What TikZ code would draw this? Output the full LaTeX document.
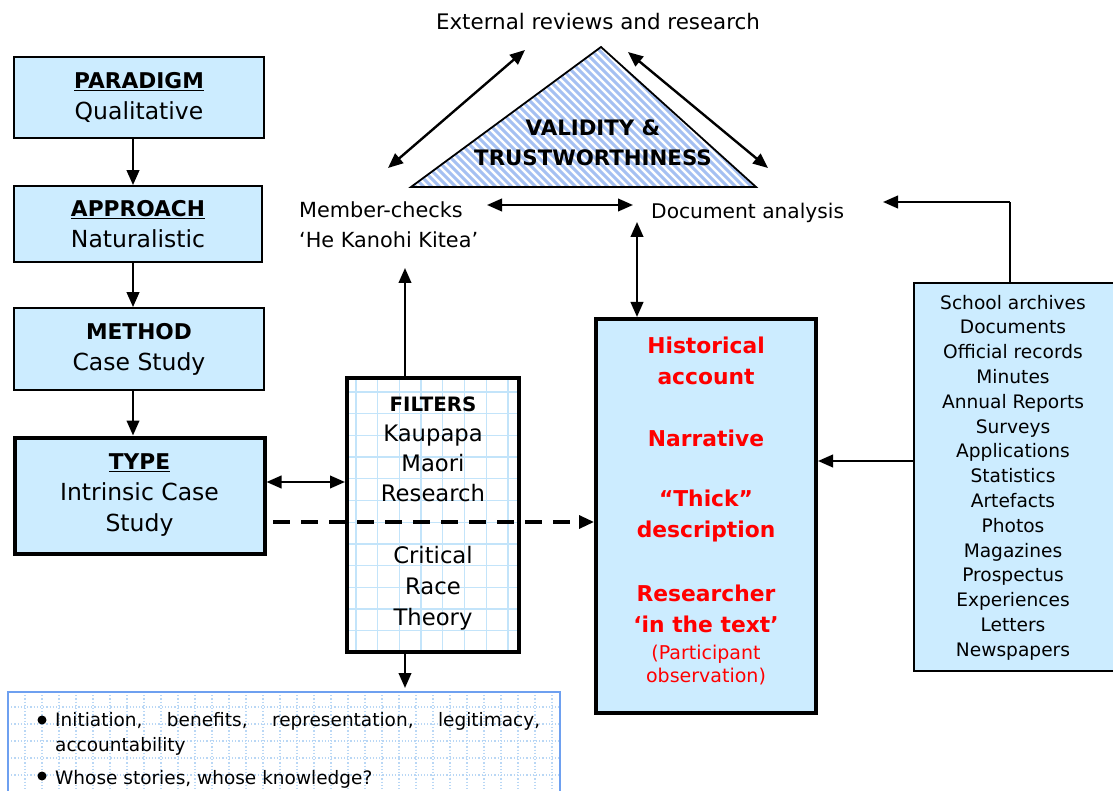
\documentclass[tikz,border=0pt]{standalone}
\usepackage{fontspec}
\setmainfont{DejaVu Sans}
\usetikzlibrary{arrows.meta}
\definecolor{lb}{RGB}{204,236,255}
\definecolor{stripe}{RGB}{165,192,242}
\definecolor{gridc}{RGB}{195,228,250}
\definecolor{dotc}{RGB}{185,215,245}
\definecolor{bordb}{RGB}{110,160,240}
\definecolor{red1}{RGB}{255,0,0}
\tikzset{
  arr/.style={line width=2.4pt,-{Triangle[length=15pt,width=12.5pt]}},
  darr/.style={line width=2.4pt,{Triangle[length=15pt,width=12.5pt]}-{Triangle[length=15pt,width=12.5pt]}},
  bluebox/.style={draw, line width=1.8pt, fill=lb, align=center, inner sep=0pt},
  thickbox/.style={draw, line width=4pt, align=center, inner sep=0pt},
  big/.style={font=\fontsize{23.5}{31}\selectfont},
  redt/.style={text=red1, font=\fontsize{21.8}{30.5}\selectfont\bfseries, align=center},
  bul/.style={circle, fill=black, minimum size=9pt, inner sep=0pt},
}
\newcommand{\hd}[1]{{\fontsize{21.7}{31}\selectfont\textbf{#1}}}
\begin{document}
\begin{tikzpicture}[x=1pt,y=-1pt, every node/.style={inner sep=0pt}]
\useasboundingbox (0,0) rectangle (1113,791);
\fill[white] (0,0) rectangle (1113,791);

% triangle
\coordinate (tA) at (601,47);
\coordinate (tL) at (411,187);
\coordinate (tR) at (756,187);
\fill[white] (tA) -- (tL) -- (tR) -- cycle;
\begin{scope}
\clip (tA) -- (tL) -- (tR) -- cycle;
\foreach \a in {260,268,...,760} \draw[stripe, line width=3pt] (\a,47) -- (\a+140,187);
\end{scope}
\draw[line width=1.8pt] (tA) -- (tL) -- (tR) -- cycle;
\node[font=\fontsize{21.3}{30}\selectfont\bfseries, align=center] (valid) at (593,143) {VALIDITY \&\\TRUSTWORTHINESS};

\node[font=\fontsize{21.4}{30}\selectfont] (ext) at (598,22) {External reviews and research};
\node[font=\fontsize{20.8}{30}\selectfont, anchor=west, align=left] (member) at (299,225) {Member-checks\\‘He Kanohi Kitea’};
\node[font=\fontsize{20.2}{30}\selectfont, anchor=west] (doc) at (651,213) {Document analysis};

\coordinate (e1) at (525,50); \coordinate (m1) at (388,168);
\coordinate (e2) at (628,52); \coordinate (d1) at (768,168);
\draw[darr] (m1) -- (e1);
\draw[darr] (e2) -- (d1);
\coordinate (m2) at (487,205); \coordinate (d2) at (633,205);
\draw[darr] (m2) -- (d2);

% left column
\node[bluebox, big, minimum width=250pt, minimum height=81pt] (par) at (139,97.5) {\underline{\hd{PARADIGM}}\\Qualitative};
\node[bluebox, big, minimum width=248pt, minimum height=76pt] (app) at (138,224) {\underline{\hd{APPROACH}}\\Naturalistic};
\node[bluebox, big, minimum width=250pt, minimum height=82pt] (met) at (139,349) {\hd{METHOD}\\Case Study};
\node[bluebox, thickbox, big, fill=lb, minimum width=250pt, minimum height=116pt] (typ) at (139.5,495.5) {\underline{\hd{TYPE}}\\Intrinsic Case\\Study};
\draw[arr] (par.south -| 133,0) -- (app.north -| 133,0);
\draw[arr] (app.south -| 133,0) -- (met.north -| 133,0);
\draw[arr] (met.south -| 133,0) -- (typ.north -| 133,0);

% filters box
\fill[white] (347,378) rectangle (519,652);
\begin{scope}
\clip (347,378) rectangle (519,652);
\foreach \x in {356,377.7,...,520} \draw[gridc, line width=1.3pt] (\x,378) -- (\x,652);
\foreach \y in {392,413.7,...,652} \draw[gridc, line width=1.3pt] (347,\y) -- (519,\y);
\end{scope}
\node[thickbox, minimum width=172pt, minimum height=274pt] (filt) at (433,515) {};
\node[font=\fontsize{22.7}{30}\selectfont, align=center] (f1) at (433,449) {{\fontsize{19.8}{30}\selectfont\textbf{FILTERS}}\\Kaupapa\\Maori\\Research};
\node[font=\fontsize{22.7}{31}\selectfont, align=center] (f2) at (433,588) {Critical\\Race\\Theory};

% historical box
\node[thickbox, fill=lb, minimum width=220pt, minimum height=394pt] (hist) at (706,516) {};
\node[redt] (h1) at (706,361) {Historical\\account};
\node[redt] (h2) at (706,438) {Narrative};
\node[redt] (h3) at (706,516) {“Thick”\\description};
\node[redt] (h4) at (706,609) {Researcher\\‘in the text’};
\node[text=red1, font=\fontsize{19}{23}\selectfont, align=center] (h5) at (706,665) {(Participant\\observation)};

% school archives box
\node[bluebox, anchor=north west, minimum width=204pt, minimum height=388pt] (sch) at (913,282) {};
\node[font=\fontsize{18.6}{24.8}\selectfont, align=center] (schtxt) at (1013,477.5) {School archives\\Documents\\Official records\\Minutes\\Annual Reports\\Surveys\\Applications\\Statistics\\Artefacts\\Photos\\Magazines\\Prospectus\\Experiences\\Letters\\Newspapers};

% connectors
\draw[darr] (doc.south west -| 637,0) ++(0,-1) coordinate (dd) -- (hist.north -| 637,0);
\draw[line width=2.4pt] (sch.north -| 1010,0) -- (1010,202) coordinate (corner);
\draw[arr] (corner) -- (883,202);
\draw[arr] (sch.west |- 0,461) -- (hist.east |- 0,461);
\draw[darr] (typ.east |- 0,482) -- (filt.west |- 0,482);
\draw[line width=3.2pt, dash pattern=on 17pt off 11pt, -{Triangle[length=15pt,width=13pt]}] (273,522) -- (hist.west |- 0,522);
\draw[arr] (filt.north -| 405,0) -- (405,268) coordinate (mc);
\draw[arr] (filt.south -| 405,0) -- (405,688) coordinate (bt);

% bottom box
\fill[white] (8,692) rectangle (560,800);
\begin{scope}
\clip (8,692) rectangle (560,800);
\foreach \x in {25,42,...,560} \draw[dotc, line width=1.2pt, dotted] (\x,692) -- (\x,800);
\foreach \y in {707,724,...,800} \draw[dotc, line width=1.2pt, dotted] (8,\y) -- (560,\y);
\end{scope}
\draw[bordb, line width=1.8pt] (8,800) -- (8,692) coordinate (bx) -- (560,692) -- (560,800);
\node[bul] (b1) at (42,720) {};
\node[bul] (b2) at (42,776) {};
\node[font=\fontsize{18.5}{25}\selectfont, anchor=north west, align=left] (bt1) at (55,712) {\hbox to 485pt{Initiation,\hfil benefits,\hfil representation,\hfil legitimacy,}\\accountability};
\node[font=\fontsize{18.5}{25}\selectfont, anchor=west] (bt2) at (55,779) {Whose stories, whose knowledge?};
\end{tikzpicture}
\end{document}
